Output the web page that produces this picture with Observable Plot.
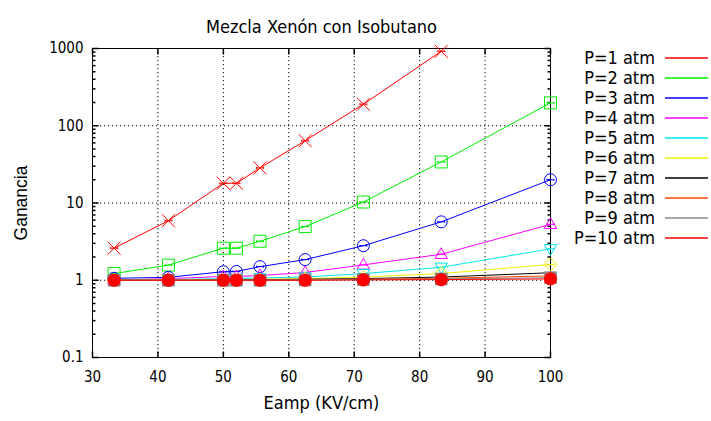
<!DOCTYPE html>
<html>
<head>
<meta charset="utf-8">
<script src="https://cdn.jsdelivr.net/npm/d3@7"></script>
<script src="https://cdn.jsdelivr.net/npm/@observablehq/plot@0.6"></script>
<style>
  html, body { margin: 0; padding: 0; background: #fff; }
  svg { display: block; }
</style>
</head>
<body>
<div id="chart"></div>
<script>
// ---- data ----
const title = "Mezcla Xenón con Isobutano";
const xLabel = "Eamp (KV/cm)";
const yLabel = "Ganancia";
const eamp = [33.3, 41.6, 50, 52, 55.6, 62.5, 71.4, 83.3, 100];
const p1  = [2.6, 5.9, 18, 18, 28.5, 64, 190, 920];
const p2  = [1.22, 1.57, 2.6, 2.6, 3.2, 4.95, 10.3, 34, 198];
const p3  = [1.06, 1.09, 1.29, 1.3, 1.5, 1.85, 2.8, 5.7, 20];
const p4  = [1.0, 1.05, 1.12, 1.12, 1.15, 1.26, 1.58, 2.17, 5.3];
const p5  = [1.0, 1.02, 1.05, 1.05, 1.07, 1.1, 1.22, 1.47, 2.55];
const p6  = [1.0, 1.01, 1.02, 1.02, 1.03, 1.05, 1.1, 1.22, 1.6];
const p7  = [1.0, 1.0, 1.01, 1.01, 1.02, 1.03, 1.05, 1.1, 1.25];
const p8  = [1.0, 1.0, 1.0, 1.0, 1.01, 1.01, 1.03, 1.06, 1.14];
const p9  = [1.0, 1.0, 1.0, 1.0, 1.0, 1.01, 1.02, 1.04, 1.08];
const p10 = [1.0, 1.0, 1.0, 1.0, 1.0, 1.0, 1.01, 1.02, 1.04];
const seriesNames = ["P=1 atm","P=2 atm","P=3 atm","P=4 atm","P=5 atm","P=6 atm","P=7 atm","P=8 atm","P=9 atm","P=10 atm"];
const seriesValues = [p1,p2,p3,p4,p5,p6,p7,p8,p9,p10];
const seriesColors = ["#ff0000","#00ee00","#0000ff","#ff00ff","#00e8e8","#f0f000","#000000","#ff4500","#888888","#ff0000"];
const seriesMarkers = ["times","square","circle","triangle","triangleDown","diamond",null,null,"squareFilled","circleFilled"];
const xTicks = [30, 40, 50, 60, 70, 80, 90, 100];
const yTicks = [0.1, 1, 10, 100, 1000];

// ---- symbols ----
function sym(fn) { return {draw(ctx) { fn(ctx); }}; }
const symbols = {
  times: sym(c => { const h = 6.5; c.moveTo(-h,-h); c.lineTo(h,h); c.moveTo(-h,h); c.lineTo(h,-h); }),
  square: sym(c => { const h = 6; c.moveTo(-h,-h); c.lineTo(h,-h); c.lineTo(h,h); c.lineTo(-h,h); c.closePath(); }),
  squareFilled: sym(c => { const h = 6.3; c.moveTo(-h,-h); c.lineTo(h,-h); c.lineTo(h,h); c.lineTo(-h,h); c.closePath(); }),
  circle: sym(c => { const r = 6; c.moveTo(r,0); c.arc(0,0,r,0,2*Math.PI); c.closePath(); }),
  circleFilled: sym(c => { const r = 6.6; c.moveTo(r,0); c.arc(0,0,r,0,2*Math.PI); c.closePath(); }),
  triangle: sym(c => { c.moveTo(0,-6.5); c.lineTo(6.2,4.2); c.lineTo(-6.2,4.2); c.closePath(); }),
  triangleDown: sym(c => { c.moveTo(0,6.5); c.lineTo(6.2,-4.2); c.lineTo(-6.2,-4.2); c.closePath(); }),
  diamond: sym(c => { const h = 6.5; c.moveTo(0,-h); c.lineTo(h,0); c.lineTo(0,h); c.lineTo(-h,0); c.closePath(); })
};
const dash = sym(c => { c.moveTo(-3.5,0); c.lineTo(3.5,0); c.moveTo(-3.5,-1); c.lineTo(-3.5,1); c.moveTo(3.5,-1); c.lineTo(3.5,1); });
const tickUp = n => sym(c => { c.moveTo(0,0); c.lineTo(0,-n); });
const tickDown = n => sym(c => { c.moveTo(0,0); c.lineTo(0,n); });
const tickRight = n => sym(c => { c.moveTo(0,0); c.lineTo(n,0); });
const tickLeft = n => sym(c => { c.moveTo(0,0); c.lineTo(-n,0); });

// minor log ticks derived from the decade tick list
const yMinor = [];
for (const d of yTicks.slice(0, -1)) for (let k = 2; k <= 9; k++) yMinor.push(+(d * k).toPrecision(3));

const font = "'DejaVu Sans Condensed', 'DejaVu Sans', sans-serif";

// ---- marks ----
const marks = [
  Plot.gridX(xTicks.slice(1, -1), {stroke: "#000", strokeOpacity: 1, strokeDasharray: "1.2,2.8"}),
  Plot.gridY(yTicks.slice(1, -1), {stroke: "#000", strokeOpacity: 1, strokeDasharray: "1.2,2.8"}),
  Plot.dot(xTicks, {x: d => d, frameAnchor: "bottom", symbol: tickUp(6), stroke: "#000", fill: "none"}),
  Plot.dot(xTicks, {x: d => d, frameAnchor: "top", symbol: tickDown(6), stroke: "#000", fill: "none"}),
  Plot.dot(yTicks, {y: d => d, frameAnchor: "left", symbol: tickRight(6), stroke: "#000", fill: "none"}),
  Plot.dot(yTicks, {y: d => d, frameAnchor: "right", symbol: tickLeft(6), stroke: "#000", fill: "none"}),
  Plot.dot(yMinor, {y: d => d, frameAnchor: "left", symbol: tickRight(3), stroke: "#000", fill: "none"}),
  Plot.dot(yMinor, {y: d => d, frameAnchor: "right", symbol: tickLeft(3), stroke: "#000", fill: "none"}),
  Plot.frame({stroke: "#000"}),
  Plot.axisX({ticks: xTicks, tickSize: 0, tickPadding: 14, fontSize: 15, label: null, tickFormat: d => String(d)}),
  Plot.axisY({ticks: yTicks, tickSize: 0, tickPadding: 9, fontSize: 15, label: null, tickFormat: d => String(d)}),
  Plot.text([title], {frameAnchor: "top", dy: -28, text: d => d, fontSize: 18}),
  Plot.text([xLabel], {frameAnchor: "bottom", dy: 51, text: d => d, fontSize: 18}),
  Plot.text([yLabel], {frameAnchor: "left", dx: -71, text: d => d, fontSize: 17.5, rotate: -90,
    textAnchor: "middle", lineAnchor: "middle", fontFamily: "'Liberation Sans', Arial, sans-serif"})
];

seriesValues.forEach((vals, i) => {
  const rows = vals.map((v, j) => ({x: eamp[j], y: v}));
  const color = seriesColors[i];
  marks.push(Plot.line(rows, {x: "x", y: "y", stroke: color, strokeWidth: 1}));
  const m = seriesMarkers[i];
  if (m) {
    const filled = m.endsWith("Filled");
    marks.push(Plot.dot(rows, {x: "x", y: "y", symbol: symbols[m],
      stroke: filled ? "none" : color, fill: filled ? color : "none", strokeWidth: 1}));
    if (!filled) marks.push(Plot.dot(rows, {x: "x", y: "y", symbol: dash, stroke: color, fill: "none", strokeWidth: 1}));
  }
});

const svg = Plot.plot({
  width: 711,
  height: 421,
  marginLeft: 92,
  marginRight: 161,
  marginTop: 48,
  marginBottom: 64,
  style: {fontFamily: font, fontSize: "15px", background: "#fff", color: "#000"},
  x: {type: "linear", domain: [30, 100]},
  y: {type: "log", domain: [0.1, 1000]},
  marks
});

// ---- legend (drawn in the right margin of the same SVG) ----
const lg = d3.select(svg).append("g").attr("font-family", font).attr("font-size", 18);
seriesNames.forEach((name, i) => {
  const yy = 58 + 20 * i;
  lg.append("text").attr("x", 655).attr("y", yy).attr("dy", "0.35em")
    .attr("text-anchor", "end").attr("fill", "#000").text(name);
  lg.append("line").attr("x1", 665).attr("x2", 708).attr("y1", yy).attr("y2", yy)
    .attr("stroke", seriesColors[i]).attr("stroke-width", 1.3);
});

document.getElementById("chart").appendChild(svg);
</script>
</body>
</html>
